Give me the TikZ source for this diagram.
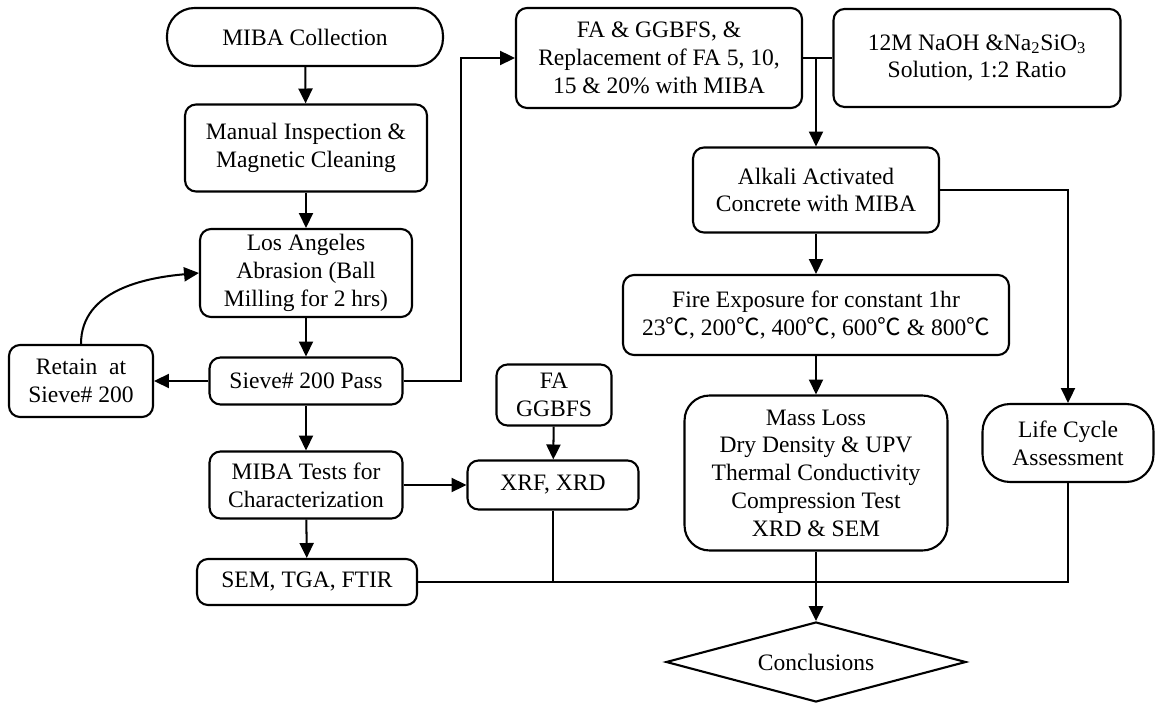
\documentclass[tikz,border=0pt]{standalone}
\usepackage{fontspec}
\setmainfont{Liberation Serif}
\newfontfamily\cjk{Noto Sans CJK SC}
\usetikzlibrary{arrows.meta,shapes.geometric}
\newcommand{\degc}{{\cjk ℃}}

\begin{document}
\begin{tikzpicture}[x=0.02cm,y=-0.02cm,line width=1.15pt,>={Triangle[length=8.5pt,width=8pt]},
  box/.style={draw,line width=1.2pt,rounded corners=0.22cm,align=center,inner sep=2pt,
    font=\fontsize{13.4}{15.8}\selectfont},
  pill/.style={box,rounded corners=0.55cm},
  decide/.style={draw,line width=1.2pt,diamond,aspect=3.75,inner sep=0pt,
    minimum width=6cm,minimum height=1.6cm,font=\fontsize{13.4}{15.8}\selectfont}]
\useasboundingbox (0,0) rectangle (1155,705);
% left column: MIBA preparation
\node[pill,minimum width=5.52cm,minimum height=1.16cm] (coll) at (305,37) {MIBA Collection};
\node[box,minimum width=4.84cm,minimum height=1.74cm] (insp) at (306,148) {Manual Inspection \&\\Magnetic Cleaning};
\node[box,minimum width=4.24cm,minimum height=1.76cm] (abr) at (306,273) {Los Angeles\\Abrasion (Ball\\Milling for 2 hrs)};
\node[box,minimum width=3.86cm,minimum height=0.94cm] (sieve) at (306,381) {Sieve\# 200 Pass};
\node[box,minimum width=2.88cm,minimum height=1.44cm] (retain) at (81,381) {Retain~~at\\Sieve\# 200};
\node[box,minimum width=3.86cm,minimum height=1.34cm] (tests) at (306,485) {MIBA Tests for\\Characterization};
\node[box,minimum width=4.4cm,minimum height=0.92cm] (sem) at (307,582) {SEM, TGA, FTIR};
% binders characterization
\node[box,minimum width=2.3cm,minimum height=1.22cm] (fa) at (554,395) {FA\\GGBFS};
\node[box,minimum width=3.42cm,minimum height=0.98cm] (xrf) at (553,485) {XRF, XRD};
% right column: concrete
\node[box,minimum width=5.72cm,minimum height=2cm] (mix) at (659,58) {FA \& GGBFS, \&\\Replacement of FA 5, 10,\\15 \& 20\% with MIBA};
\node[box,minimum width=5.74cm,minimum height=1.96cm] (naoh) at (977,58) {12M NaOH \&Na\textsubscript{2}SiO\textsubscript{3}\\Solution, 1:2 Ratio};
\node[box,minimum width=4.92cm,minimum height=1.7cm] (aac) at (816,190) {Alkali Activated\\Concrete with MIBA};
\node[box,minimum width=7.72cm,minimum height=1.6cm] (fire) at (816,315) {Fire Exposure for constant 1hr\\23\degc, 200\degc, 400\degc, 600\degc\ \& 800\degc};
\node[box,rounded corners=0.5cm,minimum width=5.26cm,minimum height=3.1cm] (mass) at (816,473) {Mass Loss\\Dry Density \& UPV\\Thermal Conductivity\\Compression Test\\XRD \& SEM};
\node[pill,minimum width=3.42cm,minimum height=1.56cm] (lca) at (1068,443) {Life Cycle\\Assessment};
\node[decide] (concl) at (816,662) {Conclusions};
% connectors
\draw[->] (coll) -- (insp);
\draw[->] (insp) -- (abr);
\draw[->] (abr) -- (sieve);
\draw[->] (sieve) -- (retain);
\draw[->] (retain.north) to[out=90,in=185] (abr.west);
\draw[->] (sieve.east) -- ++(57,0) |- (mix.west);
\draw[->] (sieve) -- (tests);
\draw[->] (tests) -- (sem);
\draw[->] (tests.east) -- (xrf.west);
\draw[->] (fa) -- (xrf);
\draw (mix.east) -- (naoh.west);
\draw[->] (mix.east -| aac.north) -- (aac.north);
\draw[->] (aac) -- (fire);
\draw[->] (fire) -- (mass);
\draw[->] (aac.east) -| (lca.north);
% collecting line to conclusions
\draw (sem.east) -| (lca.south);
\draw (xrf.south) -- (xrf.south |- sem.east);
\draw[->,line width=1.6pt] (mass.south) -- (concl.north);
\end{tikzpicture}
\end{document}
